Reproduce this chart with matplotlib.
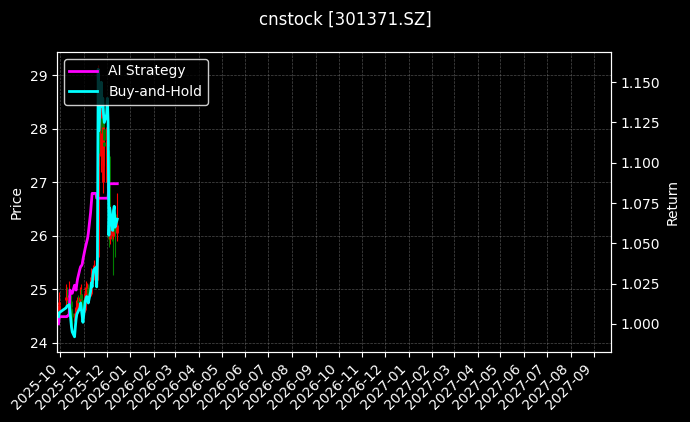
import numpy as np
import pandas as pd
import matplotlib
matplotlib.use("Agg")
import matplotlib.pyplot as plt
import matplotlib.dates as mdates

# trading days shown in the chart
dates = pd.to_datetime([
    "2025-09-29", "2025-09-30", "2025-10-09", "2025-10-10", "2025-10-13",
    "2025-10-14", "2025-10-15", "2025-10-16", "2025-10-17", "2025-10-20",
    "2025-10-21", "2025-10-22", "2025-10-23", "2025-10-24", "2025-10-27",
    "2025-10-28", "2025-10-29", "2025-10-30", "2025-10-31", "2025-11-03",
    "2025-11-04", "2025-11-05", "2025-11-06", "2025-11-07", "2025-11-10",
    "2025-11-11", "2025-11-12", "2025-11-13", "2025-11-14", "2025-11-17",
    "2025-11-18", "2025-11-19", "2025-11-20", "2025-11-21", "2025-11-24",
    "2025-11-25", "2025-11-26", "2025-11-27", "2025-11-28", "2025-12-01",
    "2025-12-02", "2025-12-03", "2025-12-04", "2025-12-05", "2025-12-08",
    "2025-12-09", "2025-12-10", "2025-12-11", "2025-12-12", "2025-12-15",
])

opens = [24.60, 24.70, 24.80, 24.88, 24.85, 24.92, 24.78, 24.65, 24.55, 24.45,
         24.40, 24.55, 24.65, 24.78, 24.78, 24.86, 24.92, 24.80, 24.72, 24.62,
         24.95, 25.00, 25.02, 24.98, 24.92, 25.10, 25.22, 25.18, 25.35, 25.42,
         25.45, 25.18, 25.60, 28.40, 27.50, 28.20, 27.00, 28.00, 27.75, 27.00,
         27.80, 28.00, 27.50, 25.95, 26.35, 26.15, 26.00, 26.30, 26.40, 26.05]
highs = [24.85, 24.95, 25.10, 25.05, 25.15, 25.00, 24.90, 24.75, 24.62, 24.55,
         24.65, 24.80, 24.85, 24.90, 25.05, 25.10, 25.00, 24.88, 24.80, 25.05,
         25.15, 25.12, 25.10, 25.05, 25.25, 25.40, 25.30, 25.45, 25.55, 25.60,
         25.50, 25.70, 29.20, 28.90, 28.60, 28.50, 28.30, 28.20, 27.95, 28.00,
         28.40, 28.10, 27.60, 26.60, 26.50, 26.30, 26.50, 26.55, 26.45, 26.80]
lows = [24.50, 24.62, 24.70, 24.75, 24.72, 24.70, 24.55, 24.45, 24.30, 24.20,
        24.35, 24.50, 24.58, 24.65, 24.72, 24.80, 24.75, 24.62, 24.50, 24.58,
        24.85, 24.90, 24.88, 24.80, 24.88, 25.02, 25.05, 25.10, 25.25, 25.30,
        25.10, 25.10, 25.55, 27.30, 27.20, 27.40, 26.80, 27.50, 27.30, 26.90,
        27.60, 27.40, 25.80, 25.85, 25.90, 25.27, 25.95, 26.20, 25.60, 25.90]
closes = [24.71, 24.77, 24.85, 24.87, 24.90, 24.80, 24.67, 24.55, 24.48, 24.40,
          24.55, 24.67, 24.75, 24.77, 24.85, 24.92, 24.82, 24.72, 24.62, 24.94,
          24.99, 25.02, 24.97, 24.92, 25.09, 25.23, 25.17, 25.34, 25.42, 25.46,
          25.17, 25.58, 28.49, 27.55, 28.29, 27.92, 28.04, 27.80, 27.68, 27.80,
          28.04, 27.68, 25.95, 26.37, 26.13, 26.03, 26.32, 26.40, 26.08, 26.20]

ai_strategy = [1.000, 1.0045, 1.0045, 1.0045, 1.006, 1.021, 1.020, 1.019, 1.019, 1.024,
               1.022, 1.021, 1.025, 1.028, 1.034, 1.0356, 1.036, 1.037, 1.040, 1.047,
               1.049, 1.051, 1.053, 1.056, 1.069, 1.075, 1.081, 1.081, 1.081, 1.081,
               1.078, 1.078, 1.078, 1.078, 1.078, 1.078, 1.078, 1.078, 1.078, 1.078,
               1.078, 1.078, 1.087, 1.087, 1.087, 1.087, 1.087, 1.087, 1.087, 1.087]
buy_hold = [1.0045, 1.007, 1.010, 1.011, 1.012, 1.008, 1.003, 0.998, 0.995, 0.992,
            0.998, 1.003, 1.006, 1.007, 1.010, 1.013, 1.009, 1.005, 1.001, 1.014,
            1.016, 1.017, 1.015, 1.013, 1.020, 1.0255, 1.023, 1.030, 1.0335, 1.035,
            1.023, 1.040, 1.158, 1.120, 1.150, 1.135, 1.140, 1.130, 1.125, 1.130,
            1.140, 1.125, 1.055, 1.072, 1.062, 1.058, 1.070, 1.073, 1.060, 1.065]

plt.rcParams["font.family"] = ["DejaVu Sans"]

fig = plt.figure(figsize=(6.9, 4.22), dpi=100, facecolor="black")
ax1 = fig.add_axes([0.0826, 0.166, 0.803, 0.711])
ax1.set_facecolor("black")
ax2 = ax1.twinx()

# candles
o = np.array(opens)
c = np.array(closes)
cols = np.where(c >= o, "red", "green")
ax1.vlines(dates, lows, highs, colors=cols, linewidth=0.8)
ax1.vlines(dates, np.minimum(o, c), np.maximum(o, c), colors=cols, linewidth=2)

ax2.plot(dates, ai_strategy, color="#ff00ff", linewidth=2, label="AI Strategy")
ax2.plot(dates, buy_hold, color="#00ffff", linewidth=2, label="Buy-and-Hold")

ax1.set_xlim(pd.Timestamp("2025-09-27"), pd.Timestamp("2027-09-23"))
ax1.set_ylim(23.83, 29.44)
ax2.set_ylim(0.9826, 1.1688)
ax2.set_yticks([1.000, 1.025, 1.050, 1.075, 1.100, 1.125, 1.150])

ax1.xaxis.set_major_locator(mdates.MonthLocator())
ax1.xaxis.set_major_formatter(mdates.DateFormatter("%Y-%m"))
for lbl in ax1.get_xticklabels():
    lbl.set_rotation(45)
    lbl.set_ha("right")

ax1.grid(True, color="gray", linestyle="--", linewidth=0.5, alpha=0.6)

for ax in (ax1, ax2):
    ax.tick_params(colors="white", labelsize=10)
    for s in ax.spines.values():
        s.set_color("white")

ax1.set_ylabel("Price", color="white")
ax2.set_ylabel("Return", color="white")

leg = ax2.legend(loc="upper left", facecolor="black", edgecolor="white",
                 labelcolor="white", fontsize=10, framealpha=0.8)

fig.suptitle("cnstock [301371.SZ]", color="white", fontsize=12, y=0.975)

fig.savefig("out.png", dpi=100, facecolor="black")
